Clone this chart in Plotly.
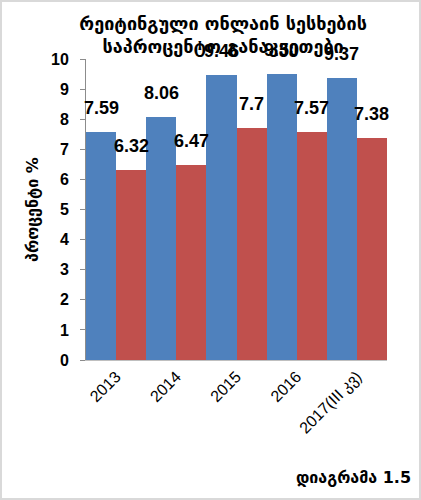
import plotly.graph_objects as go

categories = ["2013", "2014", "2015", "2016", "2017(III კვ)"]
series_a = [7.59, 8.06, 9.46, 9.50, 9.37]
series_b = [6.32, 6.47, 7.70, 7.57, 7.38]
labels_a = ["7.59", "8.06", "9.46", "9.50", "9.37"]
labels_b = ["6.32", "6.47", "7.7", "7.57", "7.38"]
y_ticks = [0, 1, 2, 3, 4, 5, 6, 7, 8, 9, 10]

BLUE = "#4F81BD"
RED = "#C0504D"
GEO = "DejaVu Sans"
NUM = "Liberation Sans"

fig = go.Figure()
fig.add_trace(go.Bar(x=categories, y=series_a, marker=dict(color=BLUE, line=dict(width=0))))
fig.add_trace(go.Bar(x=categories, y=series_b, marker=dict(color=RED, line=dict(width=0))))

annotations = []
for i, (v, t) in enumerate(zip(series_a, labels_a)):
    annotations.append(dict(x=i - 0.25, y=v, text="<b>" + t + "</b>", xref="x", yref="y", showarrow=False,
                            xanchor="center", yanchor="bottom", yshift=12,
                            font=dict(family=NUM, size=18, color="black")))
for i, (v, t) in enumerate(zip(series_b, labels_b)):
    annotations.append(dict(x=i + 0.25, y=v, text="<b>" + t + "</b>", xref="x", yref="y", showarrow=False,
                            xanchor="center", yanchor="bottom", yshift=12,
                            font=dict(family=NUM, size=18, color="black")))
annotations.append(dict(text="<b>დიაგრამა 1.5</b>", xref="paper", yref="paper",
                        x=(294 - 86) / 301, y=-(477 - 360) / 301, xanchor="left", yanchor="middle",
                        showarrow=False,
                        font=dict(family=GEO, size=16, color="black")))

fig.update_layout(
    width=421, height=500,
    margin=dict(l=86, r=34, t=59, b=140),
    barmode="group", bargap=0, bargroupgap=0,
    showlegend=False,
    plot_bgcolor="white", paper_bgcolor="white",
    title=dict(text="<b>რეიტინგული ონლაინ სესხების<br>საპროცენტო განაკვეთები</b>",
               x=0.53, xanchor="center", y=0.94, yanchor="top",
               font=dict(family=GEO, size=18, color="black")),
    xaxis=dict(type="category", range=[-0.5, 4.5], tickangle=-45, automargin=False,
               tickfont=dict(family=NUM, size=16, color="black"),
               showline=True, linecolor="#bfbfbf", linewidth=1, ticks="", showgrid=False),
    yaxis=dict(range=[0, 10], tickvals=y_ticks, showgrid=False, zeroline=False, automargin=False,
               showline=True, linecolor="#8c8c8c", linewidth=1,
               ticks="outside", ticklen=5, tickcolor="#8c8c8c", ticklabelstandoff=8,
               tickfont=dict(family=NUM, size=16, color="black", weight="bold"),
               title=dict(text="<b>პროცენტი %</b>", standoff=8,
                          font=dict(family=GEO, size=16, color="black"))),
    shapes=[dict(type="rect", xref="paper", yref="paper", x0=-85/301, x1=1 + 33/301,
                 y0=-139/301, y1=1 + 58/301, line=dict(color="#d9d9d9", width=2))],
    annotations=annotations,
)

fig.write_html("out.html", config={"displayModeBar": False},
               post_script="document.body.style.margin='0';")
